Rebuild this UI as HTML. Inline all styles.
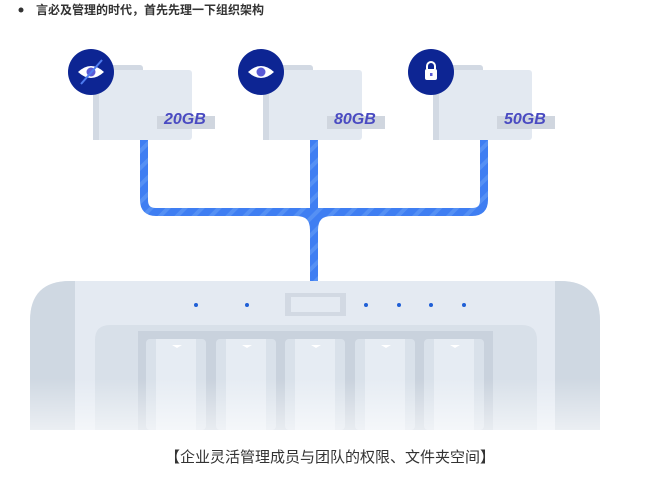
<!DOCTYPE html>
<html><head><meta charset="utf-8"><style>
body{margin:0;background:#fff;width:664px;height:477px;overflow:hidden;font-family:"Liberation Sans","Noto Sans CJK SC",sans-serif;}
</style></head><body>
<svg width="664" height="477" viewBox="0 0 664 477" xmlns="http://www.w3.org/2000/svg">
<defs>
<pattern id="st" width="12" height="12" patternUnits="userSpaceOnUse" patternTransform="rotate(45)">
<rect width="12" height="12" fill="#3f7ef2"/><rect width="4" height="12" fill="#5590f4"/></pattern>
<linearGradient id="fade" x1="0" y1="0" x2="0" y2="1">
<stop offset="0" stop-color="#fff" stop-opacity="0"/><stop offset="0.65" stop-color="#fff" stop-opacity="0"/><stop offset="1" stop-color="#fff" stop-opacity="0.6"/></linearGradient>
</defs>
<circle cx="21" cy="10" r="2.5" fill="#333"/>
<text x="36" y="14" font-size="12" font-weight="bold" fill="#333">言必及管理的时代，首先先理一下组织架构</text>

<g fill="none" stroke="url(#st)" stroke-width="8">
<path d="M144 140 V200 Q144 212 156 212 H472 Q484 212 484 200 V140"/>
<path d="M314 140 V281"/>
<path d="M296 212 Q314 212 314 230 Q314 212 332 212"/>
</g>

<g id="f">
<rect x="93" y="65" width="50" height="20" rx="3" fill="#d2d9e3"/>
<rect x="93" y="70" width="99" height="70" rx="3" fill="#e3e9f1"/>
<rect x="93" y="70" width="6" height="70" fill="#d2d9e3"/>
<rect x="157" y="116" width="58" height="13" fill="#d0d6df"/>
</g>
<use href="#f" x="170"/><use href="#f" x="340"/>
<g font-size="16" font-weight="bold" font-style="italic" fill="#4a4bc2">
<text x="164" y="124">20GB</text><text x="334" y="124">80GB</text><text x="504" y="124">50GB</text></g>

<circle cx="91" cy="72" r="23" fill="#0d2593"/>
<path d="M78 72 Q91 60 104 72 Q91 84 78 72Z" fill="#fff"/><circle cx="91" cy="72" r="4.5" fill="#5b5bd6"/>
<line x1="81" y1="84" x2="102" y2="60" stroke="#4f7cf0" stroke-width="2"/>
<circle cx="261" cy="72" r="23" fill="#0d2593"/>
<path d="M248 72 Q261 60 274 72 Q261 84 248 72Z" fill="#fff"/><circle cx="261" cy="72" r="4.5" fill="#5b5bd6"/>
<circle cx="431" cy="72" r="23" fill="#0d2593"/>
<rect x="425" y="69" width="12" height="11" rx="2" fill="#fff"/>
<path d="M427 69 V66 a4 4 0 0 1 8 0 V69" fill="none" stroke="#fff" stroke-width="2"/>
<rect x="430" y="73" width="2.5" height="3" fill="#5b5bd6"/>

<path d="M30 430 V321 Q30 281 70 281 H560 Q600 281 600 321 V430Z" fill="#e4eaf2"/>
<path d="M30 430 V321 Q30 281 70 281 H75 V430Z" fill="#cfd8e2"/>
<path d="M555 281 H560 Q600 281 600 321 V430 H555Z" fill="#cfd8e2"/>
<g fill="#1f5fd6"><circle cx="196" cy="305" r="2"/><circle cx="247" cy="305" r="2"/><circle cx="366" cy="305" r="2"/><circle cx="399" cy="305" r="2"/><circle cx="431" cy="305" r="2"/><circle cx="464" cy="305" r="2"/></g>
<rect x="285" y="293" width="61" height="23" fill="#d2d9e3"/><rect x="291" y="297" width="49" height="15" fill="#e4eaf2"/>
<path d="M95 430 V340 Q95 325 110 325 H522 Q537 325 537 340 V430Z" fill="#d8e0e9"/>
<rect x="138" y="331" width="355" height="99" fill="#c9d2dd"/>
<g id="d"><rect x="146" y="339" width="60" height="91" rx="4" fill="#d9e1ea"/><rect x="156" y="339" width="40" height="91" fill="#e6ecf3"/><path d="M172 345 h10 l-5 3z" fill="#fff"/></g>
<use href="#d" x="70"/><use href="#d" x="139"/><use href="#d" x="209"/><use href="#d" x="278"/>
<rect x="30" y="281" width="570" height="150" fill="url(#fade)"/>

<text x="330" y="462" font-size="15" fill="#333" text-anchor="middle">【企业灵活管理成员与团队的权限、文件夹空间】</text>
</svg>
</body></html>
